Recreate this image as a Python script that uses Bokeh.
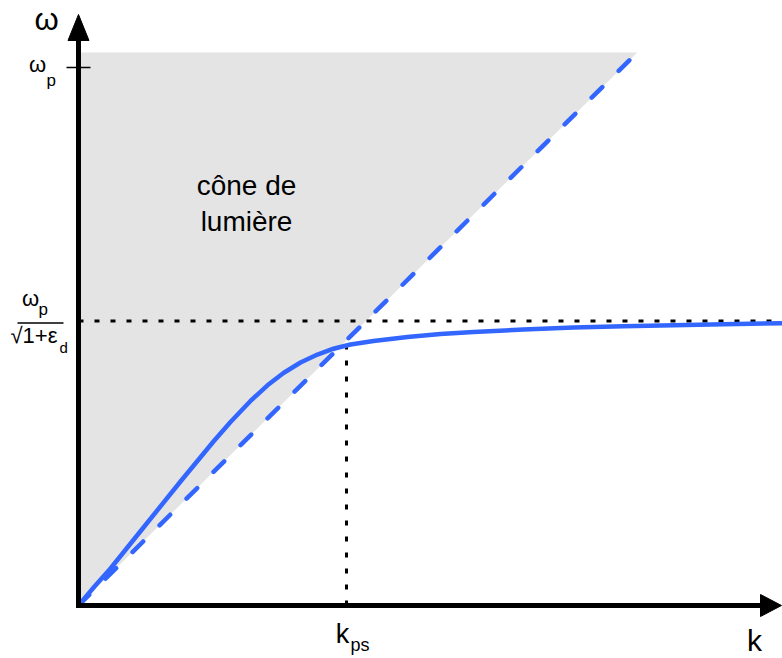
from bokeh.plotting import figure
from bokeh.models import Range1d
from bokeh.embed import file_html
from bokeh.resources import INLINE
from bokeh.core.properties import value
import numpy as np

# ---- chart values (normalised: k in units of k_ps, omega in units of omega_p) ----
k_curve = [0.0, 0.0597, 0.1194, 0.2425, 0.3806, 0.5037, 0.5672, 0.6418, 0.7052,
           0.7649, 0.8284, 0.8918, 0.9515, 1.0149, 1.1007, 1.2276, 1.3507, 1.4739,
           1.6604, 1.8470, 2.0336, 2.2201, 2.4067, 2.6269]
w_curve = [0.0, 0.0353, 0.0688, 0.1450, 0.2305, 0.3048, 0.3412, 0.3802, 0.4093,
           0.4322, 0.4517, 0.4665, 0.4773, 0.4851, 0.4916, 0.4991, 0.5046, 0.5084,
           0.5130, 0.5167, 0.5190, 0.5208, 0.5227, 0.5246]
K_PS = 1.0            # k_ps
W_P = 1.0             # omega_p
W_SP = 0.529          # omega_p / sqrt(1+eps_d)
LIGHT_SLOPE = 0.493   # light line omega = c k
W_TOP = 1.028         # top of the light cone shading
Y_TIP, Y_HEAD = 1.0985, 1.0502   # omega axis arrow
X_TIP, X_HEAD = 2.6231, 2.5448   # k axis arrow

label_cone = ["cône de", "lumière"]

BLUE = "#3366FF"
GREY = "#E4E4E4"
FONT = value("Liberation Sans")

W, H = 782, 658
x0, x1 = -0.29104, 2.62687
y0, y1 = -0.09851, 1.12454
sx = W / (x1 - x0)
sy = H / (y1 - y0)

p = figure(width=W, height=H, x_range=Range1d(x0, x1), y_range=Range1d(y0, y1),
           x_axis_type=None, y_axis_type=None, output_backend="svg",
           toolbar_location=None, min_border=0, outline_line_color=None,
           background_fill_color="white", border_fill_color="white")
p.grid.visible = False

k_light_end = W_TOP / LIGHT_SLOPE

# light cone shading
p.patch([0, k_light_end, 0], [0, W_TOP, W_TOP], fill_color=GREY, line_color=None)

# dotted guides
p.line([0, x1], [W_SP, W_SP], line_color="black", line_width=3, line_dash="5 11")
w_at_kps = float(np.interp(K_PS, k_curve, w_curve))
p.line([K_PS, K_PS], [0, w_at_kps], line_color="black", line_width=3, line_dash="5 11")

# light line (dashed)
p.line([0, k_light_end], [0, W_TOP], line_color=BLUE, line_width=4.5,
       line_dash="15 23", line_cap="round")

# plasmon dispersion curve
p.line(k_curve, w_curve, line_color=BLUE, line_width=4.5, line_join="round", line_cap="round")

# axes
p.line([0, 0], [-2.5 / sy, Y_HEAD + 2 / sy], line_color="black", line_width=5)
p.line([-2.5 / sx, X_HEAD + 2 / sx], [0, 0], line_color="black", line_width=5)
p.patch([-10.5 / sx, 0, 10.5 / sx], [Y_HEAD, Y_TIP, Y_HEAD], fill_color="black", line_color="black")
p.patch([X_HEAD, X_TIP, X_HEAD], [-11 / sy, 0, 11 / sy], fill_color="black", line_color="black")

# omega_p tick
p.line([-12 / sx, 12 / sx], [W_P, W_P], line_color="black", line_width=1.5)

def txt(x, y, s, size, dx, dy, align="center"):
    # small correction: the rendered baseline sits ~0.36 em lower than requested
    p.text(x=[x], y=[y], text=[s], x_offset=dx, y_offset=dy - round(0.36 * size),
           text_font=FONT, text_font_size=f"{size}px", text_align=align,
           text_baseline="alphabetic", text_color="black")

# axis titles
txt(0, Y_TIP, "ω", 31, -32, 16)
txt(X_TIP, 0, "k", 30, -27, 46)

# omega_p label
txt(0, W_P, "ω", 22, -41, 5)
txt(0, W_P, "p", 17, -32, 19, "left")

# omega_sp fraction label
txt(0, W_SP, "ω", 22, -48, -14)
txt(0, W_SP, "p", 17, -40, -5, "left")
p.line([-61 / sx, -15 / sx], [W_SP - 2 / sy, W_SP - 2 / sy], line_color="black", line_width=1.5)
txt(0, W_SP, "√1+ε", 22, -68, 23, "left")
txt(0, W_SP, "d", 15, -19, 32, "left")

# k_ps label
txt(K_PS, 0, "k", 27, -4, 38)
txt(K_PS, 0, "ps", 18, 4, 45, "left")

# light cone label
K_LAB, W_LAB = 0.627, 0.762
txt(K_LAB, W_LAB, label_cone[0], 28, 0, 0)
txt(K_LAB, W_LAB, label_cone[1], 28, 0, 36)

open("out.html", "w").write(file_html(p, INLINE))
